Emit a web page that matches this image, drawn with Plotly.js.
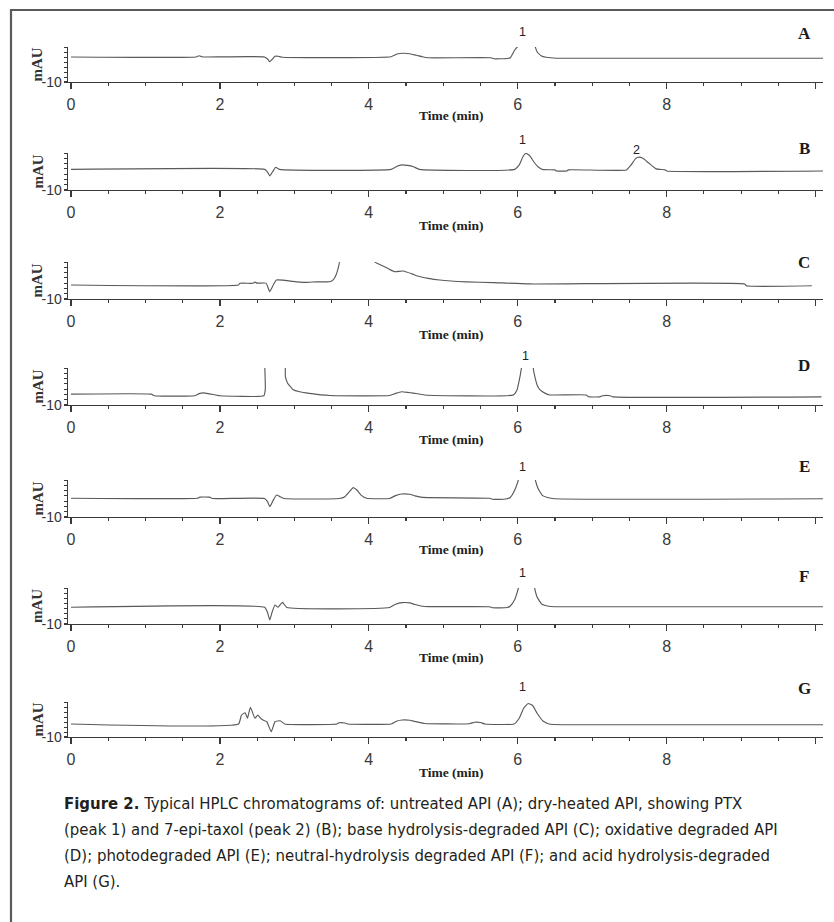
<!DOCTYPE html>
<html>
<head>
<meta charset="utf-8">
<script src="https://cdn.plot.ly/plotly-3.0.1.min.js"></script>
<style>
  html, body { margin: 0; padding: 0; background: #ffffff; }
  #chart { width: 834px; height: 922px; }
</style>
</head>
<body>
<div id="chart"></div>
<script>
// ---------- data (retention time in min, detector signal in mAU) ----------
const panelLetters = ['A', 'B', 'C', 'D', 'E', 'F', 'G'];

const timeA = [0, 1.68, 1.72, 1.76, 1.8, 2.6, 2.64, 2.67, 2.7, 2.74, 2.78, 2.84, 4.3, 4.39, 4.46, 4.55, 4.59, 4.64, 4.72, 4.8, 5.64, 5.68, 5.86, 5.9, 5.96, 6.02, 6.1, 6.18, 6.23, 6.26, 6.32, 6.38, 6.52, 10.1];
const signalA = [0, 0, 0.5, 0.1, 0, 0, -0.8, -1.9, -1.0, 0.3, 0.3, -0.1, 0.1, 1.3, 1.5, 1.3, 1.0, 0.7, 0.1, -0.3, -0.3, -0.7, -0.6, -0.3, 2.8, 5.0, 14, 14, 4.8, 2.1, 0.4, -0.1, -0.5, -0.5];

const timeB = [0, 2.6, 2.64, 2.67, 2.71, 2.75, 2.8, 4.3, 4.38, 4.44, 4.52, 4.6, 4.68, 5.96, 6.02, 6.07, 6.11, 6.16, 6.22, 6.28, 6.34, 6.5, 6.52, 6.66, 6.68, 7.46, 7.52, 7.58, 7.62, 7.68, 7.76, 7.86, 7.98, 8.0, 10.1];
const signalB = [-2.2, -2.2, -3.2, -4.7, -3.0, -1.4, -2.2, -2.2, -1.0, -0.5, -0.7, -1.2, -2.2, -2.2, -0.5, 2.6, 3.9, 3.0, 0.5, -1.4, -2.3, -2.4, -2.8, -2.8, -2.4, -2.4, -0.6, 1.8, 2.4, 2.0, 0.2, -2.0, -2.4, -2.8, -2.8];

const timeC = [0, 2.25, 2.27, 2.44, 2.47, 2.5, 2.62, 2.67, 2.72, 2.76, 3.03, 3.16, 3.3, 3.48, 3.52, 3.56, 3.6, 3.64, 4.02, 4.06, 4.11, 4.19, 4.28, 4.35, 4.46, 4.59, 4.64, 4.8, 4.95, 5.31, 5.67, 6.16, 9.05, 9.07, 9.95];
const signalC = [-4.7, -4.7, -4.05, -4.05, -3.6, -4.0, -4.0, -7.2, -4.5, -2.8, -3.5, -3.7, -3.5, -3.5, -2.8, -0.9, 3.0, 9, 9, 4.5, 3.5, 2.5, 1.2, 0.3, 0.6, -0.6, -1.2, -2.2, -2.8, -3.5, -3.8, -4.3, -4.3, -5.0, -5.0];

const timeD = [0, 1.08, 1.12, 1.66, 1.72, 1.78, 1.86, 1.96, 2.0, 2.59, 2.61, 2.615, 2.86, 2.88, 2.91, 2.98, 3.07, 3.2, 3.48, 4.28, 4.36, 4.44, 4.52, 4.6, 4.75, 5.94, 5.99, 6.03, 6.07, 6.19, 6.22, 6.26, 6.3, 6.37, 6.43, 6.92, 6.95, 7.1, 7.14, 7.24, 7.28, 10.08];
const signalD = [-5.9, -5.9, -6.5, -6.5, -5.7, -5.4, -5.8, -6.3, -6.5, -6.5, -4.0, 20, 20, 0.7, -1.8, -4.1, -5.0, -5.6, -6.4, -6.4, -5.6, -5.0, -5.2, -5.5, -6.2, -6.2, -4.3, 0.7, 6, 6, 2.0, -2.4, -4.3, -5.6, -6.2, -6.2, -6.9, -6.9, -6.5, -6.5, -6.9, -6.9];

const timeE = [0, 1.7, 1.73, 1.86, 1.9, 2.6, 2.64, 2.67, 2.71, 2.76, 2.8, 2.86, 3.6, 3.68, 3.74, 3.79, 3.84, 3.9, 3.97, 4.28, 4.36, 4.44, 4.55, 4.62, 4.72, 5.62, 5.66, 5.84, 5.9, 5.96, 6.02, 6.1, 6.18, 6.23, 6.27, 6.33, 6.4, 6.5, 10.1];
const signalE = [-2.9, -2.9, -2.5, -2.5, -3.0, -3.0, -4.2, -6.1, -4.0, -1.7, -2.2, -3.0, -3.0, -2.3, -0.4, 1.1, 0.2, -1.8, -2.9, -3.0, -1.9, -1.3, -1.4, -2.0, -2.6, -2.9, -3.3, -3.2, -2.6, 0.2, 5.0, 14, 14, 4.8, 1.0, -1.8, -2.6, -3.1, -3.1];

const timeF = [0, 2.6, 2.64, 2.67, 2.7, 2.74, 2.78, 2.84, 2.9, 4.28, 4.36, 4.45, 4.55, 4.62, 4.75, 5.62, 5.66, 5.86, 5.9, 5.96, 6.02, 6.1, 6.18, 6.22, 6.26, 6.32, 6.4, 6.5, 10.1];
const signalF = [-3.5, -3.5, -5.5, -8.4, -5.5, -2.6, -3.5, -1.6, -3.6, -3.6, -2.3, -1.7, -1.8, -2.4, -3.2, -3.3, -3.7, -3.6, -3.0, -0.5, 5.0, 14, 14, 5.0, 0.5, -2.2, -3.0, -3.3, -3.3];

const timeG = [0, 2.25, 2.29, 2.34, 2.37, 2.41, 2.47, 2.51, 2.55, 2.58, 2.63, 2.69, 2.74, 2.81, 2.87, 3.57, 3.6, 3.68, 3.72, 4.3, 4.38, 4.45, 4.55, 4.62, 4.75, 5.35, 5.42, 5.5, 5.56, 5.95, 6.02, 6.08, 6.14, 6.2, 6.26, 6.34, 6.42, 6.6, 10.1];
const signalG = [-4.8, -4.8, -1.2, -0.3, -2.5, 1.9, -2.5, -1.2, -2.6, -3.2, -3.9, -7.9, -3.9, -3.5, -4.8, -4.8, -4.3, -4.4, -4.8, -4.8, -3.6, -3.2, -3.3, -3.8, -4.6, -4.7, -4.1, -4.2, -4.8, -4.8, -2.5, 1.5, 3.4, 2.6, -0.5, -3.6, -4.8, -5.1, -5.1];

// peak labels (1 = PTX, 2 = 7-epi-taxol)
const peakPanels = ['A', 'B', 'B', 'D', 'E', 'F', 'G'];
const peakTimes = [6.07, 6.07, 7.6, 6.11, 6.07, 6.07, 6.07];
const peakTexts = ['1', '1', '2', '1', '1', '1', '1'];

// axis ticks and labels
const xTickValues = [0, 2, 4, 6, 8, 10];
const xTickLabels = ['0', '2', '4', '6', '8', ''];
const yTickValues = [-10];
const yTickLabels = ['-10'];
const xTitle = 'Time (min)';
const yTitle = 'mAU';
const captionBold = 'Figure 2.';
const captionLines = [
  ' Typical HPLC chromatograms of: untreated API (A); dry-heated API, showing PTX',
  '(peak 1) and 7-epi-taxol (peak 2) (B); base hydrolysis-degraded API (C); oxidative degraded API',
  '(D); photodegraded API (E); neutral-hydrolysis degraded API (F); and acid hydrolysis-degraded',
  'API (G).'
];

// ---------- layout ----------
const W = 834, H = 922;
const px = v => v / W;
const py = v => 1 - v / H;

const times = [timeA, timeB, timeC, timeD, timeE, timeF, timeG];
const signals = [signalA, signalB, signalC, signalD, signalE, signalF, signalG];

// pixel extents of each panel (top of y axis, x-axis line, "Time (min)" row, letter row)
const panelTop = [47, 153, 262, 368, 480, 588, 702];
const panelBottom = [82, 190, 299, 405, 517, 624, 737];
const timeLabelPx = [116, 226, 334, 440, 549, 657, 772];
const letterPx = [33, 148, 262, 365, 466, 576, 688];
const peakLabelPx = [32, 140, 150, 356, 467, 573, 687];

const axisColor = '#3a3a3a';
const tickFontFamily = '"Liberation Sans", Arial, sans-serif';
const serif = '"Liberation Serif", "Times New Roman", serif';

const traces = [];
const layout = {
  width: W, height: H,
  margin: {l: 0, r: 0, t: 0, b: 0},
  paper_bgcolor: '#ffffff',
  plot_bgcolor: 'rgba(0,0,0,0)',
  showlegend: false,
  annotations: [],
  shapes: [{
    type: 'rect', xref: 'paper', yref: 'paper',
    x0: px(11), x1: 1.05, y0: -0.05, y1: py(10),
    line: {color: '#5a5a5a', width: 2.2}, fillcolor: 'rgba(0,0,0,0)', layer: 'below'
  }]
};

panelLetters.forEach((letter, i) => {
  const n = i + 1;
  const xa = n === 1 ? 'xaxis' : 'xaxis' + n;
  const ya = n === 1 ? 'yaxis' : 'yaxis' + n;
  const xr = n === 1 ? 'x' : 'x' + n;
  const yr = n === 1 ? 'y' : 'y' + n;

  traces.push({
    type: 'scatter', mode: 'lines',
    x: times[i], y: signals[i],
    xaxis: xr, yaxis: yr,
    line: {color: '#5a5a5a', width: 1.15, shape: 'spline', smoothing: 0.4},
    hoverinfo: 'x+y', name: letter
  });

  layout[xa] = {
    domain: [px(68), px(823)],
    anchor: yr,
    range: [-0.04, 10.1],
    showline: true, linecolor: axisColor, linewidth: 1.4,
    showgrid: false, zeroline: false,
    tickmode: 'array', tickvals: xTickValues, ticktext: xTickLabels,
    ticks: 'outside', ticklen: 6, tickwidth: 1.3, tickcolor: axisColor,
    minor: {tickmode: 'linear', tick0: 0, dtick: 0.5, ticks: 'outside', ticklen: 3, tickwidth: 1.1, tickcolor: axisColor, showgrid: false},
    tickfont: {family: tickFontFamily, size: 16, color: '#3a3a3a'},
    ticklabelstandoff: 1,
    fixedrange: true
  };
  layout[ya] = {
    domain: [py(panelBottom[i]), py(panelTop[i])],
    anchor: xr,
    range: [-10, 4],
    showline: true, linecolor: axisColor, linewidth: 1.4,
    showgrid: false, zeroline: false,
    tickmode: 'array', tickvals: yTickValues, ticktext: yTickLabels,
    ticks: 'outside', ticklen: 3, tickwidth: 1.2, tickcolor: axisColor,
    minor: {tickmode: 'linear', tick0: -10, dtick: 2, ticks: 'outside', ticklen: 2.5, tickwidth: 1, tickcolor: axisColor, showgrid: false},
    tickfont: {family: tickFontFamily, size: 14, color: '#333333'},
    ticklabelstandoff: -1,
    fixedrange: true
  };

  // panel letter
  layout.annotations.push({
    xref: 'paper', yref: 'paper', x: px(804), y: py(letterPx[i]),
    text: '<b>' + letter + '</b>', showarrow: false,
    xanchor: 'center', yanchor: 'middle',
    font: {family: serif, size: 17, color: '#1a1a1a'}
  });
  // x-axis title
  layout.annotations.push({
    xref: 'paper', yref: 'paper', x: px(452), y: py(timeLabelPx[i]),
    text: '<b>' + xTitle + '</b>', showarrow: false,
    xanchor: 'center', yanchor: 'middle',
    font: {family: serif, size: 13.5, color: '#222222'}
  });
  // y-axis title
  layout.annotations.push({
    xref: 'paper', yref: 'paper', x: px(37), y: py((panelTop[i] + panelBottom[i]) / 2),
    text: '<b>' + yTitle + '</b>', showarrow: false, textangle: -90,
    xanchor: 'center', yanchor: 'middle',
    font: {family: serif, size: 15, color: '#333333'}
  });
});

// peak number labels
peakTexts.forEach((txt, k) => {
  const n = panelLetters.indexOf(peakPanels[k]) + 1;
  layout.annotations.push({
    xref: n === 1 ? 'x' : 'x' + n, yref: 'paper',
    x: peakTimes[k], y: py(peakLabelPx[k]),
    text: txt, showarrow: false, xanchor: 'center', yanchor: 'middle',
    font: {family: '"Liberation Sans", Arial, sans-serif', size: 12.5, color: '#222222'}
  });
});

// caption
const captionPx = [803, 829, 855, 881];
captionLines.forEach((line, k) => {
  layout.annotations.push({
    xref: 'paper', yref: 'paper', x: px(62), y: py(captionPx[k]),
    text: (k === 0 ? '<b>' + captionBold + '</b>' : '') + line,
    showarrow: false, xanchor: 'left', yanchor: 'middle', align: 'left',
    font: {family: '"DejaVu Sans Condensed", "Liberation Sans Narrow", "Arial Narrow", sans-serif', size: 16.6, color: '#231f20'}
  });
});

Plotly.newPlot('chart', traces, layout, {displayModeBar: false, staticPlot: true});
</script>
</body>
</html>
